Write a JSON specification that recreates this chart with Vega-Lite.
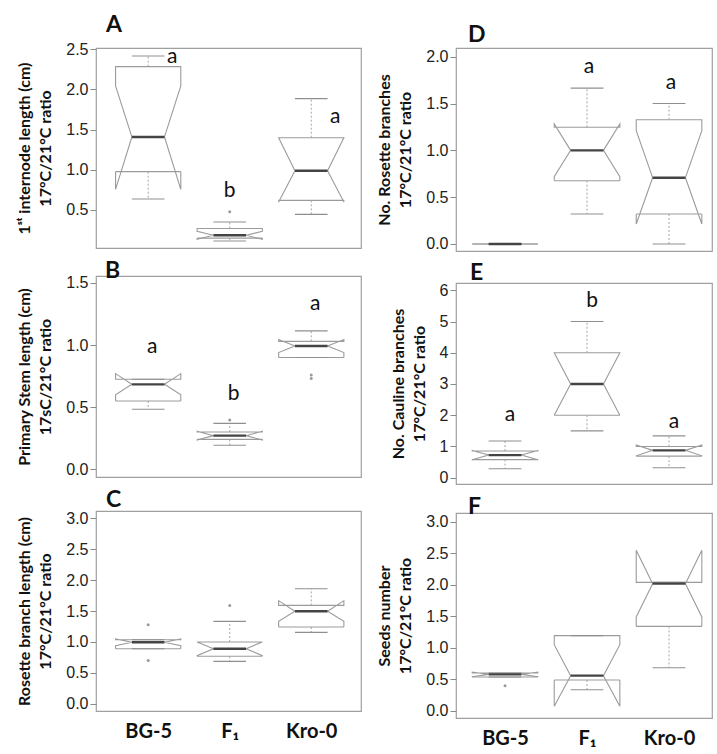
{
  "$schema": "https://vega.github.io/schema/vega-lite/v6.json",
  "padding": {"left": 16, "top": 13, "right": 0, "bottom": 0},
  "spacing": 14,
  "datasets": {
    "stats": [
      {"panel": "A", "group": "BG-5", "kind": "box", "wlo": 0.637, "q1": 0.977, "nlo": 0.757, "med": 1.409, "nhi": 2.044, "q3": 2.284, "whi": 2.417},
      {"panel": "A", "group": "F1", "kind": "box", "wlo": 0.114, "q1": 0.15, "nlo": 0.135, "med": 0.185, "nhi": 0.235, "q3": 0.27, "whi": 0.351},
      {"panel": "A", "group": "Kro-0", "kind": "box", "wlo": 0.446, "q1": 0.62, "nlo": 0.6, "med": 0.989, "nhi": 1.4, "q3": 1.4, "whi": 1.886},
      {"panel": "A", "group": "F1", "kind": "out", "v": 0.479},
      {"panel": "A", "group": "BG-5", "kind": "let", "t": "a", "v": 2.4},
      {"panel": "A", "group": "F1", "kind": "let", "t": "b", "v": 0.736},
      {"panel": "A", "group": "Kro-0", "kind": "let", "t": "a", "v": 1.657},

      {"panel": "B", "group": "BG-5", "kind": "box", "wlo": 0.483, "q1": 0.55, "nlo": 0.6, "med": 0.684, "nhi": 0.77, "q3": 0.725, "whi": 0.725},
      {"panel": "B", "group": "F1", "kind": "box", "wlo": 0.193, "q1": 0.241, "nlo": 0.236, "med": 0.271, "nhi": 0.306, "q3": 0.3, "whi": 0.37},
      {"panel": "B", "group": "Kro-0", "kind": "box", "wlo": 0.9, "q1": 0.9, "nlo": 0.94, "med": 0.993, "nhi": 1.044, "q3": 1.03, "whi": 1.114},
      {"panel": "B", "group": "F1", "kind": "out", "v": 0.397},
      {"panel": "B", "group": "Kro-0", "kind": "out", "v": 0.76},
      {"panel": "B", "group": "Kro-0", "kind": "out", "v": 0.73},
      {"panel": "B", "group": "BG-5", "kind": "let", "t": "a", "v": 0.985},
      {"panel": "B", "group": "F1", "kind": "let", "t": "b", "v": 0.606},
      {"panel": "B", "group": "Kro-0", "kind": "let", "t": "a", "v": 1.33},

      {"panel": "C", "group": "BG-5", "kind": "box", "wlo": 0.892, "q1": 0.892, "nlo": 0.94, "med": 0.995, "nhi": 1.05, "q3": 1.037, "whi": 1.037},
      {"panel": "C", "group": "F1", "kind": "box", "wlo": 0.688, "q1": 0.77, "nlo": 0.78, "med": 0.892, "nhi": 1.0, "q3": 1.0, "whi": 1.333},
      {"panel": "C", "group": "Kro-0", "kind": "box", "wlo": 1.156, "q1": 1.242, "nlo": 1.333, "med": 1.495, "nhi": 1.667, "q3": 1.59, "whi": 1.86},
      {"panel": "C", "group": "BG-5", "kind": "out", "v": 1.28},
      {"panel": "C", "group": "BG-5", "kind": "out", "v": 0.7},
      {"panel": "C", "group": "F1", "kind": "out", "v": 1.59},

      {"panel": "D", "group": "BG-5", "kind": "box", "wlo": 0, "q1": 0, "nlo": 0, "med": 0, "nhi": 0, "q3": 0, "whi": 0},
      {"panel": "D", "group": "F1", "kind": "box", "wlo": 0.32, "q1": 0.676, "nlo": 0.719, "med": 1.0, "nhi": 1.281, "q3": 1.246, "whi": 1.665},
      {"panel": "D", "group": "Kro-0", "kind": "box", "wlo": 0.0, "q1": 0.32, "nlo": 0.213, "med": 0.708, "nhi": 1.21, "q3": 1.327, "whi": 1.5},
      {"panel": "D", "group": "F1", "kind": "let", "t": "a", "v": 1.89},
      {"panel": "D", "group": "Kro-0", "kind": "let", "t": "a", "v": 1.72},

      {"panel": "E", "group": "BG-5", "kind": "box", "wlo": 0.286, "q1": 0.58, "nlo": 0.57, "med": 0.724, "nhi": 0.87, "q3": 0.853, "whi": 1.173},
      {"panel": "E", "group": "F1", "kind": "box", "wlo": 1.5, "q1": 2, "nlo": 2, "med": 3, "nhi": 4, "q3": 4, "whi": 5},
      {"panel": "E", "group": "Kro-0", "kind": "box", "wlo": 0.32, "q1": 0.69, "nlo": 0.7, "med": 0.875, "nhi": 1.05, "q3": 1.0, "whi": 1.34},
      {"panel": "E", "group": "BG-5", "kind": "let", "t": "a", "v": 2.0},
      {"panel": "E", "group": "F1", "kind": "let", "t": "b", "v": 5.66},
      {"panel": "E", "group": "Kro-0", "kind": "let", "t": "a", "v": 1.78},

      {"panel": "F", "group": "BG-5", "kind": "box", "wlo": 0.535, "q1": 0.535, "nlo": 0.54, "med": 0.578, "nhi": 0.615, "q3": 0.6, "whi": 0.6},
      {"panel": "F", "group": "F1", "kind": "box", "wlo": 0.334, "q1": 0.488, "nlo": 0.07, "med": 0.557, "nhi": 1.05, "q3": 1.193, "whi": 1.193},
      {"panel": "F", "group": "Kro-0", "kind": "box", "wlo": 0.684, "q1": 1.34, "nlo": 1.49, "med": 2.02, "nhi": 2.549, "q3": 2.04, "whi": 2.04},
      {"panel": "F", "group": "BG-5", "kind": "out", "v": 0.398}
    ]
  },
  "hconcat": [
    {
      "spacing": 10,
      "vconcat": [
        {
          "width": 265, "height": 200,
          "title": {"text": "A", "offset": 4, "dx": 10},
          "data": {"name": "stats"},
          "transform": [{"filter": "datum.panel === 'A'"}, {"calculate": "indexof(['BG-5','F1','Kro-0'], datum.group) + 1", "as": "gi"}],
          "encoding": {
            "x": {"field": "xv", "type": "quantitative", "scale": {"domain": [0.36, 3.61], "nice": false, "zero": false}, "axis": null},
            "y": {"field": "yv", "type": "quantitative", "scale": {"domain": [0.027, 2.516], "nice": false, "zero": false}, "axis": {"title": ["1ˢᵗ internode length (cm)", "17°C/21°C ratio"], "values": [0.5, 1, 1.5, 2, 2.5], "format": ".1f", "labelOverlap": false}}
          },
          "layer": [
            {"transform": [{"filter": "datum.kind === 'box'"}, {"calculate": "-1", "as": "L"}, {"calculate": "1", "as": "R"}, {"fold": ["L", "R"], "as": ["sk", "side"]}, {"fold": ["q1", "nlo", "med", "nhi", "q3"], "as": ["k", "yv"]}, {"calculate": "datum.side < 0 ? indexof(['q1','nlo','med','nhi','q3'], datum.k) : 9 - indexof(['q1','nlo','med','nhi','q3'], datum.k)", "as": "ord"}, {"calculate": "datum.gi + datum.side * (datum.k === 'med' ? 0.2 : 0.4)", "as": "xv"}],
             "mark": {"type": "line", "color": "#9b9b9b", "strokeWidth": 1.1},
             "encoding": {"order": {"field": "ord", "type": "quantitative"}, "detail": {"field": "group"}}},
            {"transform": [{"filter": "datum.kind === 'box'"}, {"calculate": "datum.gi - 0.4", "as": "xv"}, {"calculate": "datum.gi + 0.4", "as": "xv2"}, {"calculate": "datum.q1", "as": "yv"}],
             "mark": {"type": "rule", "color": "#9b9b9b", "strokeWidth": 1.1},
             "encoding": {"x2": {"field": "xv2"}}},
            {"transform": [{"filter": "datum.kind === 'box'"}, {"fold": ["whi", "wlo"], "as": ["wk", "yv2"]}, {"calculate": "datum.wk === 'whi' ? datum.q3 : datum.q1", "as": "yv"}, {"calculate": "datum.gi", "as": "xv"}],
             "mark": {"type": "rule", "color": "#a5a5a5", "strokeDash": [2, 2]},
             "encoding": {"y2": {"field": "yv2"}}},
            {"transform": [{"filter": "datum.kind === 'box'"}, {"fold": ["whi", "wlo"], "as": ["wk", "yv"]}, {"calculate": "datum.gi - 0.2", "as": "xv"}, {"calculate": "datum.gi + 0.2", "as": "xv2"}],
             "mark": {"type": "rule", "color": "#8f8f8f", "strokeWidth": 1.1},
             "encoding": {"x2": {"field": "xv2"}}},
            {"transform": [{"filter": "datum.kind === 'box'"}, {"calculate": "datum.gi - 0.2", "as": "xv"}, {"calculate": "datum.gi + 0.2", "as": "xv2"}, {"calculate": "datum.med", "as": "yv"}],
             "mark": {"type": "rule", "color": "#444444", "strokeWidth": 2.4},
             "encoding": {"x2": {"field": "xv2"}}},
            {"transform": [{"filter": "datum.kind === 'out'"}, {"calculate": "datum.gi", "as": "xv"}, {"calculate": "datum.v", "as": "yv"}],
             "mark": {"type": "point", "filled": true, "size": 9, "color": "#999999", "opacity": 1}},
            {"transform": [{"filter": "datum.kind === 'let' && datum.group === 'F1'"}, {"calculate": "datum.gi", "as": "xv"}, {"calculate": "datum.v", "as": "yv"}],
             "mark": {"type": "text", "font": "Lato", "fontSize": 21, "color": "#111111", "baseline": "middle"},
             "encoding": {"text": {"field": "t"}}},
            {"transform": [{"filter": "datum.kind === 'let' && datum.group !== 'F1'"}, {"calculate": "datum.gi", "as": "xv"}, {"calculate": "datum.v", "as": "yv"}],
             "mark": {"type": "text", "font": "Lato", "fontSize": 21, "color": "#111111", "baseline": "middle", "dx": 24},
             "encoding": {"text": {"field": "t"}}}
          ]
        },
        {
          "width": 265, "height": 201,
          "title": {"text": "B", "offset": -8, "dx": 9},
          "data": {"name": "stats"},
          "transform": [{"filter": "datum.panel === 'B'"}, {"calculate": "indexof(['BG-5','F1','Kro-0'], datum.group) + 1", "as": "gi"}],
          "encoding": {
            "x": {"field": "xv", "type": "quantitative", "scale": {"domain": [0.36, 3.61], "nice": false, "zero": false}, "axis": null},
            "y": {"field": "yv", "type": "quantitative", "scale": {"domain": [-0.062, 1.556], "nice": false, "zero": false}, "axis": {"title": ["Primary Stem length (cm)", "17sC/21°C ratio"], "values": [0, 0.5, 1, 1.5], "format": ".1f", "labelOverlap": false}}
          },
          "layer": [
            {"transform": [{"filter": "datum.kind === 'box'"}, {"calculate": "-1", "as": "L"}, {"calculate": "1", "as": "R"}, {"fold": ["L", "R"], "as": ["sk", "side"]}, {"fold": ["q1", "nlo", "med", "nhi", "q3"], "as": ["k", "yv"]}, {"calculate": "datum.side < 0 ? indexof(['q1','nlo','med','nhi','q3'], datum.k) : 9 - indexof(['q1','nlo','med','nhi','q3'], datum.k)", "as": "ord"}, {"calculate": "datum.gi + datum.side * (datum.k === 'med' ? 0.2 : 0.4)", "as": "xv"}],
             "mark": {"type": "line", "color": "#9b9b9b", "strokeWidth": 1.1},
             "encoding": {"order": {"field": "ord", "type": "quantitative"}, "detail": {"field": "group"}}},
            {"transform": [{"filter": "datum.kind === 'box'"}, {"calculate": "datum.gi - 0.4", "as": "xv"}, {"calculate": "datum.gi + 0.4", "as": "xv2"}, {"calculate": "datum.q1", "as": "yv"}],
             "mark": {"type": "rule", "color": "#9b9b9b", "strokeWidth": 1.1},
             "encoding": {"x2": {"field": "xv2"}}},
            {"transform": [{"filter": "datum.kind === 'box'"}, {"fold": ["whi", "wlo"], "as": ["wk", "yv2"]}, {"calculate": "datum.wk === 'whi' ? datum.q3 : datum.q1", "as": "yv"}, {"calculate": "datum.gi", "as": "xv"}],
             "mark": {"type": "rule", "color": "#a5a5a5", "strokeDash": [2, 2]},
             "encoding": {"y2": {"field": "yv2"}}},
            {"transform": [{"filter": "datum.kind === 'box'"}, {"fold": ["whi", "wlo"], "as": ["wk", "yv"]}, {"calculate": "datum.gi - 0.2", "as": "xv"}, {"calculate": "datum.gi + 0.2", "as": "xv2"}],
             "mark": {"type": "rule", "color": "#8f8f8f", "strokeWidth": 1.1},
             "encoding": {"x2": {"field": "xv2"}}},
            {"transform": [{"filter": "datum.kind === 'box'"}, {"calculate": "datum.gi - 0.2", "as": "xv"}, {"calculate": "datum.gi + 0.2", "as": "xv2"}, {"calculate": "datum.med", "as": "yv"}],
             "mark": {"type": "rule", "color": "#444444", "strokeWidth": 2.4},
             "encoding": {"x2": {"field": "xv2"}}},
            {"transform": [{"filter": "datum.kind === 'out'"}, {"calculate": "datum.gi", "as": "xv"}, {"calculate": "datum.v", "as": "yv"}],
             "mark": {"type": "point", "filled": true, "size": 9, "color": "#999999", "opacity": 1}},
            {"transform": [{"filter": "datum.kind === 'let'"}, {"calculate": "datum.gi", "as": "xv"}, {"calculate": "datum.v", "as": "yv"}],
             "mark": {"type": "text", "font": "Lato", "fontSize": 21, "color": "#111111", "baseline": "middle", "dx": 4},
             "encoding": {"text": {"field": "t"}}}
          ]
        },
        {
          "width": 265, "height": 200,
          "title": {"text": "C", "offset": -2, "dx": 10},
          "data": {"name": "stats"},
          "transform": [{"filter": "datum.panel === 'C'"}, {"calculate": "indexof(['BG-5','F1','Kro-0'], datum.group) + 1", "as": "gi"}],
          "encoding": {
            "x": {"field": "xv", "type": "quantitative", "scale": {"domain": [0.36, 3.61], "nice": false, "zero": false}, "axis": {"title": null, "values": [1, 2, 3], "labelExpr": "datum.value == 1 ? 'BG-5' : datum.value == 2 ? 'F₁' : 'Kro-0'", "ticks": false, "labelFont": "Lato", "labelFontWeight": "bold", "labelFontSize": 20, "labelColor": "#111111", "labelPadding": 10}},
            "y": {"field": "yv", "type": "quantitative", "scale": {"domain": [-0.113, 3.113], "nice": false, "zero": false}, "axis": {"title": ["Rosette branch length (cm)", "17°C/21°C ratio"], "values": [0, 0.5, 1, 1.5, 2, 2.5, 3], "format": ".1f", "labelOverlap": false}}
          },
          "layer": [
            {"transform": [{"filter": "datum.kind === 'box'"}, {"calculate": "-1", "as": "L"}, {"calculate": "1", "as": "R"}, {"fold": ["L", "R"], "as": ["sk", "side"]}, {"fold": ["q1", "nlo", "med", "nhi", "q3"], "as": ["k", "yv"]}, {"calculate": "datum.side < 0 ? indexof(['q1','nlo','med','nhi','q3'], datum.k) : 9 - indexof(['q1','nlo','med','nhi','q3'], datum.k)", "as": "ord"}, {"calculate": "datum.gi + datum.side * (datum.k === 'med' ? 0.2 : 0.4)", "as": "xv"}],
             "mark": {"type": "line", "color": "#9b9b9b", "strokeWidth": 1.1},
             "encoding": {"order": {"field": "ord", "type": "quantitative"}, "detail": {"field": "group"}}},
            {"transform": [{"filter": "datum.kind === 'box'"}, {"calculate": "datum.gi - 0.4", "as": "xv"}, {"calculate": "datum.gi + 0.4", "as": "xv2"}, {"calculate": "datum.q1", "as": "yv"}],
             "mark": {"type": "rule", "color": "#9b9b9b", "strokeWidth": 1.1},
             "encoding": {"x2": {"field": "xv2"}}},
            {"transform": [{"filter": "datum.kind === 'box'"}, {"fold": ["whi", "wlo"], "as": ["wk", "yv2"]}, {"calculate": "datum.wk === 'whi' ? datum.q3 : datum.q1", "as": "yv"}, {"calculate": "datum.gi", "as": "xv"}],
             "mark": {"type": "rule", "color": "#a5a5a5", "strokeDash": [2, 2]},
             "encoding": {"y2": {"field": "yv2"}}},
            {"transform": [{"filter": "datum.kind === 'box'"}, {"fold": ["whi", "wlo"], "as": ["wk", "yv"]}, {"calculate": "datum.gi - 0.2", "as": "xv"}, {"calculate": "datum.gi + 0.2", "as": "xv2"}],
             "mark": {"type": "rule", "color": "#8f8f8f", "strokeWidth": 1.1},
             "encoding": {"x2": {"field": "xv2"}}},
            {"transform": [{"filter": "datum.kind === 'box'"}, {"calculate": "datum.gi - 0.2", "as": "xv"}, {"calculate": "datum.gi + 0.2", "as": "xv2"}, {"calculate": "datum.med", "as": "yv"}],
             "mark": {"type": "rule", "color": "#444444", "strokeWidth": 2.4},
             "encoding": {"x2": {"field": "xv2"}}},
            {"transform": [{"filter": "datum.kind === 'out'"}, {"calculate": "datum.gi", "as": "xv"}, {"calculate": "datum.v", "as": "yv"}],
             "mark": {"type": "point", "filled": true, "size": 9, "color": "#999999", "opacity": 1}}
          ]
        }
      ]
    },
    {
      "spacing": 8,
      "vconcat": [
        {
          "width": 256, "height": 203,
          "title": {"text": "D", "offset": 1, "dx": 12},
          "data": {"name": "stats"},
          "transform": [{"filter": "datum.panel === 'D'"}, {"calculate": "indexof(['BG-5','F1','Kro-0'], datum.group) + 1", "as": "gi"}],
          "encoding": {
            "x": {"field": "xv", "type": "quantitative", "scale": {"domain": [0.402, 3.524], "nice": false, "zero": false}, "axis": null},
            "y": {"field": "yv", "type": "quantitative", "scale": {"domain": [-0.075, 2.093], "nice": false, "zero": false}, "axis": {"title": ["No. Rosette branches", "17°C/21°C ratio"], "values": [0, 0.5, 1, 1.5, 2], "format": ".1f", "labelOverlap": false}}
          },
          "layer": [
            {"transform": [{"filter": "datum.kind === 'box'"}, {"calculate": "-1", "as": "L"}, {"calculate": "1", "as": "R"}, {"fold": ["L", "R"], "as": ["sk", "side"]}, {"fold": ["q1", "nlo", "med", "nhi", "q3"], "as": ["k", "yv"]}, {"calculate": "datum.side < 0 ? indexof(['q1','nlo','med','nhi','q3'], datum.k) : 9 - indexof(['q1','nlo','med','nhi','q3'], datum.k)", "as": "ord"}, {"calculate": "datum.gi + datum.side * (datum.k === 'med' ? 0.2 : 0.4)", "as": "xv"}],
             "mark": {"type": "line", "color": "#9b9b9b", "strokeWidth": 1.1},
             "encoding": {"order": {"field": "ord", "type": "quantitative"}, "detail": {"field": "group"}}},
            {"transform": [{"filter": "datum.kind === 'box'"}, {"calculate": "datum.gi - 0.4", "as": "xv"}, {"calculate": "datum.gi + 0.4", "as": "xv2"}, {"calculate": "datum.q1", "as": "yv"}],
             "mark": {"type": "rule", "color": "#9b9b9b", "strokeWidth": 1.1},
             "encoding": {"x2": {"field": "xv2"}}},
            {"transform": [{"filter": "datum.kind === 'box'"}, {"fold": ["whi", "wlo"], "as": ["wk", "yv2"]}, {"calculate": "datum.wk === 'whi' ? datum.q3 : datum.q1", "as": "yv"}, {"calculate": "datum.gi", "as": "xv"}],
             "mark": {"type": "rule", "color": "#a5a5a5", "strokeDash": [2, 2]},
             "encoding": {"y2": {"field": "yv2"}}},
            {"transform": [{"filter": "datum.kind === 'box'"}, {"fold": ["whi", "wlo"], "as": ["wk", "yv"]}, {"calculate": "datum.gi - 0.2", "as": "xv"}, {"calculate": "datum.gi + 0.2", "as": "xv2"}],
             "mark": {"type": "rule", "color": "#8f8f8f", "strokeWidth": 1.1},
             "encoding": {"x2": {"field": "xv2"}}},
            {"transform": [{"filter": "datum.kind === 'box'"}, {"calculate": "datum.gi - 0.2", "as": "xv"}, {"calculate": "datum.gi + 0.2", "as": "xv2"}, {"calculate": "datum.med", "as": "yv"}],
             "mark": {"type": "rule", "color": "#444444", "strokeWidth": 2.4},
             "encoding": {"x2": {"field": "xv2"}}},
            {"transform": [{"filter": "datum.kind === 'let'"}, {"calculate": "datum.gi", "as": "xv"}, {"calculate": "datum.v", "as": "yv"}],
             "mark": {"type": "text", "font": "Lato", "fontSize": 21, "color": "#111111", "baseline": "middle", "dx": 2},
             "encoding": {"text": {"field": "t"}}}
          ]
        },
        {
          "width": 256, "height": 201,
          "title": {"text": "E", "offset": -3, "dx": 14},
          "data": {"name": "stats"},
          "transform": [{"filter": "datum.panel === 'E'"}, {"calculate": "indexof(['BG-5','F1','Kro-0'], datum.group) + 1", "as": "gi"}],
          "encoding": {
            "x": {"field": "xv", "type": "quantitative", "scale": {"domain": [0.402, 3.524], "nice": false, "zero": false}, "axis": null},
            "y": {"field": "yv", "type": "quantitative", "scale": {"domain": [-0.202, 6.234], "nice": false, "zero": false}, "axis": {"title": ["No. Cauline branches", "17°C/21°C ratio"], "values": [0, 1, 2, 3, 4, 5, 6], "format": "d", "labelOverlap": false}}
          },
          "layer": [
            {"transform": [{"filter": "datum.kind === 'box'"}, {"calculate": "-1", "as": "L"}, {"calculate": "1", "as": "R"}, {"fold": ["L", "R"], "as": ["sk", "side"]}, {"fold": ["q1", "nlo", "med", "nhi", "q3"], "as": ["k", "yv"]}, {"calculate": "datum.side < 0 ? indexof(['q1','nlo','med','nhi','q3'], datum.k) : 9 - indexof(['q1','nlo','med','nhi','q3'], datum.k)", "as": "ord"}, {"calculate": "datum.gi + datum.side * (datum.k === 'med' ? 0.2 : 0.4)", "as": "xv"}],
             "mark": {"type": "line", "color": "#9b9b9b", "strokeWidth": 1.1},
             "encoding": {"order": {"field": "ord", "type": "quantitative"}, "detail": {"field": "group"}}},
            {"transform": [{"filter": "datum.kind === 'box'"}, {"calculate": "datum.gi - 0.4", "as": "xv"}, {"calculate": "datum.gi + 0.4", "as": "xv2"}, {"calculate": "datum.q1", "as": "yv"}],
             "mark": {"type": "rule", "color": "#9b9b9b", "strokeWidth": 1.1},
             "encoding": {"x2": {"field": "xv2"}}},
            {"transform": [{"filter": "datum.kind === 'box'"}, {"fold": ["whi", "wlo"], "as": ["wk", "yv2"]}, {"calculate": "datum.wk === 'whi' ? datum.q3 : datum.q1", "as": "yv"}, {"calculate": "datum.gi", "as": "xv"}],
             "mark": {"type": "rule", "color": "#a5a5a5", "strokeDash": [2, 2]},
             "encoding": {"y2": {"field": "yv2"}}},
            {"transform": [{"filter": "datum.kind === 'box'"}, {"fold": ["whi", "wlo"], "as": ["wk", "yv"]}, {"calculate": "datum.gi - 0.2", "as": "xv"}, {"calculate": "datum.gi + 0.2", "as": "xv2"}],
             "mark": {"type": "rule", "color": "#8f8f8f", "strokeWidth": 1.1},
             "encoding": {"x2": {"field": "xv2"}}},
            {"transform": [{"filter": "datum.kind === 'box'"}, {"calculate": "datum.gi - 0.2", "as": "xv"}, {"calculate": "datum.gi + 0.2", "as": "xv2"}, {"calculate": "datum.med", "as": "yv"}],
             "mark": {"type": "rule", "color": "#444444", "strokeWidth": 2.4},
             "encoding": {"x2": {"field": "xv2"}}},
            {"transform": [{"filter": "datum.kind === 'let'"}, {"calculate": "datum.gi", "as": "xv"}, {"calculate": "datum.v", "as": "yv"}],
             "mark": {"type": "text", "font": "Lato", "fontSize": 21, "color": "#111111", "baseline": "middle", "dx": 5},
             "encoding": {"text": {"field": "t"}}}
          ]
        },
        {
          "width": 256, "height": 205,
          "title": {"text": "F", "offset": -6, "dx": 12},
          "data": {"name": "stats"},
          "transform": [{"filter": "datum.panel === 'F'"}, {"calculate": "indexof(['BG-5','F1','Kro-0'], datum.group) + 1", "as": "gi"}],
          "encoding": {
            "x": {"field": "xv", "type": "quantitative", "scale": {"domain": [0.402, 3.524], "nice": false, "zero": false}, "axis": {"title": null, "values": [1, 2, 3], "labelExpr": "datum.value == 1 ? 'BG-5' : datum.value == 2 ? 'F₁' : 'Kro-0'", "ticks": false, "labelFont": "Lato", "labelFontWeight": "bold", "labelFontSize": 20, "labelColor": "#111111", "labelPadding": 10}},
            "y": {"field": "yv", "type": "quantitative", "scale": {"domain": [-0.116, 3.143], "nice": false, "zero": false}, "axis": {"title": ["Seeds number", "17°C/21°C ratio"], "values": [0, 0.5, 1, 1.5, 2, 2.5, 3], "format": ".1f", "labelOverlap": false}}
          },
          "layer": [
            {"transform": [{"filter": "datum.kind === 'box'"}, {"calculate": "-1", "as": "L"}, {"calculate": "1", "as": "R"}, {"fold": ["L", "R"], "as": ["sk", "side"]}, {"fold": ["q1", "nlo", "med", "nhi", "q3"], "as": ["k", "yv"]}, {"calculate": "datum.side < 0 ? indexof(['q1','nlo','med','nhi','q3'], datum.k) : 9 - indexof(['q1','nlo','med','nhi','q3'], datum.k)", "as": "ord"}, {"calculate": "datum.gi + datum.side * (datum.k === 'med' ? 0.2 : 0.4)", "as": "xv"}],
             "mark": {"type": "line", "color": "#9b9b9b", "strokeWidth": 1.1},
             "encoding": {"order": {"field": "ord", "type": "quantitative"}, "detail": {"field": "group"}}},
            {"transform": [{"filter": "datum.kind === 'box'"}, {"calculate": "datum.gi - 0.4", "as": "xv"}, {"calculate": "datum.gi + 0.4", "as": "xv2"}, {"calculate": "datum.q1", "as": "yv"}],
             "mark": {"type": "rule", "color": "#9b9b9b", "strokeWidth": 1.1},
             "encoding": {"x2": {"field": "xv2"}}},
            {"transform": [{"filter": "datum.kind === 'box'"}, {"fold": ["whi", "wlo"], "as": ["wk", "yv2"]}, {"calculate": "datum.wk === 'whi' ? datum.q3 : datum.q1", "as": "yv"}, {"calculate": "datum.gi", "as": "xv"}],
             "mark": {"type": "rule", "color": "#a5a5a5", "strokeDash": [2, 2]},
             "encoding": {"y2": {"field": "yv2"}}},
            {"transform": [{"filter": "datum.kind === 'box'"}, {"fold": ["whi", "wlo"], "as": ["wk", "yv"]}, {"calculate": "datum.gi - 0.2", "as": "xv"}, {"calculate": "datum.gi + 0.2", "as": "xv2"}],
             "mark": {"type": "rule", "color": "#8f8f8f", "strokeWidth": 1.1},
             "encoding": {"x2": {"field": "xv2"}}},
            {"transform": [{"filter": "datum.kind === 'box'"}, {"calculate": "datum.gi - 0.2", "as": "xv"}, {"calculate": "datum.gi + 0.2", "as": "xv2"}, {"calculate": "datum.med", "as": "yv"}],
             "mark": {"type": "rule", "color": "#444444", "strokeWidth": 2.4},
             "encoding": {"x2": {"field": "xv2"}}},
            {"transform": [{"filter": "datum.kind === 'out'"}, {"calculate": "datum.gi", "as": "xv"}, {"calculate": "datum.v", "as": "yv"}],
             "mark": {"type": "point", "filled": true, "size": 9, "color": "#999999", "opacity": 1}}
          ]
        }
      ]
    }
  ],
  "config": {
    "view": {"stroke": "#a0a0a0", "strokeWidth": 1.2},
    "axis": {"grid": false, "domain": false, "labelOverlap": false, "labelFlush": false, "labelFont": "Liberation Sans", "labelFontSize": 16, "labelColor": "#222222", "labelPadding": 2, "tickColor": "#8a8a8a", "tickSize": 6, "titleFont": "Lato", "titleFontWeight": "bold", "titleFontSize": 16, "titleColor": "#111111", "titleLineHeight": 21, "titlePadding": 12},
    "title": {"font": "Lato", "fontSize": 23, "fontWeight": "bold", "anchor": "start", "frame": "group", "color": "#111111"}
  }
}
